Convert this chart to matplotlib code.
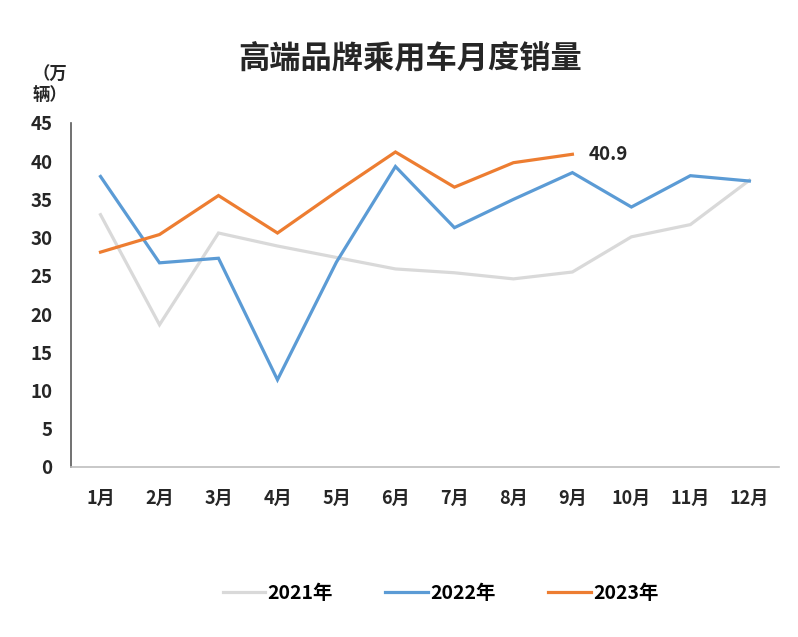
import matplotlib
matplotlib.use("Agg")
import matplotlib.pyplot as plt

plt.rcParams['font.family'] = ['Noto Sans CJK SC', 'DejaVu Sans']

meses = ["1月", "2月", "3月", "4月", "5月", "6月", "7月", "8月", "9月", "10月", "11月", "12月"]
vendas_2021 = [33.0, 18.6, 30.6, 28.9, 27.4, 25.9, 25.4, 24.6, 25.5, 30.1, 31.7, 37.5]
vendas_2022 = [38.0, 26.7, 27.3, 11.4, 26.8, 39.3, 31.3, 35.0, 38.5, 34.0, 38.1, 37.4]
vendas_2023 = [28.1, 30.4, 35.5, 30.6, 36.0, 41.2, 36.6, 39.8, 40.9]
yticks = [0, 5, 10, 15, 20, 25, 30, 35, 40, 45]

fig = plt.figure(figsize=(7.98, 6.37), dpi=100)
ax = fig.add_axes([0.089, 0.267, 0.887, 0.540])

x = list(range(len(meses)))
ax.plot(x, vendas_2021, color='#d9d9d9', lw=2.3, label='2021年', solid_joinstyle='miter')
ax.plot(x, vendas_2022, color='#5b9bd5', lw=2.3, label='2022年', solid_joinstyle='miter')
ax.plot(x[:len(vendas_2023)], vendas_2023, color='#ed7d31', lw=2.3, label='2023年', solid_joinstyle='miter')

ultimo = len(vendas_2023) - 1
ax.annotate(f"{vendas_2023[ultimo]}", (x[ultimo], vendas_2023[ultimo]), xytext=(12, 0),
            textcoords='offset points', va='center', ha='left', fontsize=13.5,
            fontweight='bold', color='#262626')

ax.set_xlim(-0.5, 11.5)
ax.set_ylim(0, 45)
ax.set_yticks(yticks)
ax.set_xticks(x)
ax.set_xticklabels(meses)
ax.tick_params(axis='both', length=0, colors='#262626')
ax.tick_params(axis='x', pad=16, labelsize=13)
ax.tick_params(axis='y', pad=13.5, labelsize=13.5)
for lbl in ax.get_xticklabels() + ax.get_yticklabels():
    lbl.set_fontweight('bold')

for s in ['top', 'right']:
    ax.spines[s].set_visible(False)
ax.spines['left'].set_color('#595959')
ax.spines['left'].set_linewidth(1.2)
ax.spines['bottom'].set_color('#bfbfbf')
ax.spines['bottom'].set_linewidth(1.2)

fig.text(0.514, 0.908, "高端品牌乘用车月度销量", ha='center', va='center',
         fontsize=22.5, fontweight='bold', color='#262626')
fig.text(0.062, 0.866, "（万\n辆）", ha='center', va='center', fontsize=12.5,
         fontweight='bold', color='#262626', linespacing=1.15)

fig.legend(loc='center', bbox_to_anchor=(0.552, 0.069), ncol=3, frameon=False,
           handlelength=2.2, handletextpad=0.1, columnspacing=2.7,
           prop={'weight': 'bold', 'size': 14})

plt.savefig("out.png", dpi=100, facecolor='white')
plt.close()
